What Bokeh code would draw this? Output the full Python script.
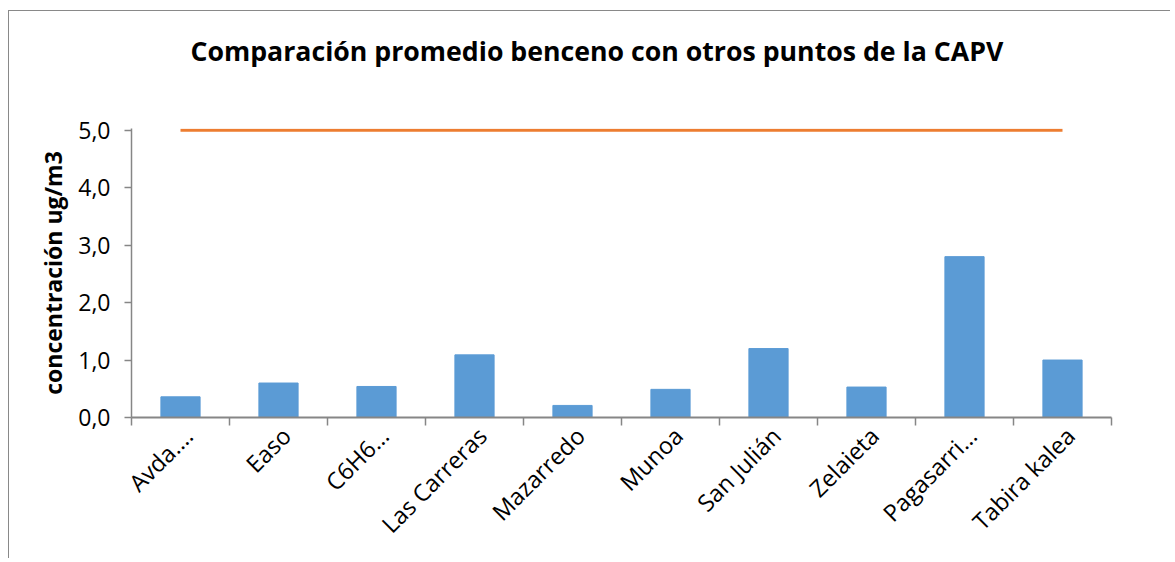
import math
from bokeh.plotting import figure
from bokeh.models import Range1d, FixedTicker
from bokeh.embed import file_html
from bokeh.resources import INLINE

categories = ["Avda.…", "Easo", "C6H6…", "Las Carreras", "Mazarredo", "Munoa",
              "San Julián", "Zelaieta", "Pagasarri…", "Tabira kalea"]
benceno = [0.36, 0.60, 0.54, 1.09, 0.21, 0.49, 1.20, 0.53, 2.80, 1.00]
limite = [5.0, 5.0, 5.0, 5.0, 5.0, 5.0, 5.0, 5.0, 5.0, 5.0]
y_ticks = [0, 1, 2, 3, 4, 5]
y_tick_labels = ["0,0", "1,0", "2,0", "3,0", "4,0", "5,0"]
title_text = "Comparación promedio benceno con otros puntos de la CAPV"
y_title = "concentración ug/m3"

FONT = "Open Sans"
AXIS_GRAY = "#868686"
BORDER = "#898989"

n = len(categories)
centers = [i + 0.5 for i in range(n)]
bounds = [i for i in range(n + 1)]
label_pos = [c + 0.08 for c in centers]

p = figure(width=1170, height=558, output_backend="svg", toolbar_location=None,
           x_range=Range1d(0, n), y_range=Range1d(0, 5.03),
           min_border_left=131, min_border_right=59, min_border_top=128,
           min_border_bottom=141)
p.outline_line_color = None
p.xgrid.visible = False
p.ygrid.visible = False
p.background_fill_color = "white"
p.border_fill_color = None
p.styles = {
    "background": (f"linear-gradient({BORDER},{BORDER}) 8px 10px / 1px calc(100% - 10px) no-repeat, "
                   f"linear-gradient({BORDER},{BORDER}) 8px 10px / calc(100% - 8px) 1px no-repeat, white")
}

p.title.text = title_text
p.title.align = "left"
p.title.offset = 59
p.title.standoff = 0
p.title.padding = dict(top=0, right=0, bottom=60, left=0)
p.title.text_font = FONT
p.title.text_font_size = "26.7px"
p.title.text_font_style = "bold"
p.title.text_color = "black"

p.vbar(x=centers, top=benceno, width=0.4, color="#5B9BD5")
p.line(x=centers, y=limite, line_color="#ED7D31", line_width=3)

# y axis
ya = p.yaxis[0]
ya.ticker = FixedTicker(ticks=y_ticks, minor_ticks=[])
ya.major_label_overrides = {t: l for t, l in zip(y_ticks, y_tick_labels)}
ya.axis_line_color = AXIS_GRAY
ya.axis_line_width = 1.5
ya.major_tick_line_color = AXIS_GRAY
ya.major_tick_line_width = 1.5
ya.major_tick_out = 7
ya.major_tick_in = 0
ya.major_label_standoff = 14
ya.major_label_text_font = FONT
ya.major_label_text_font_size = "23px"
ya.major_label_text_color = "black"
ya.axis_label = y_title
ya.axis_label_text_font = FONT
ya.axis_label_text_font_size = "23px"
ya.axis_label_text_font_style = "bold"
ya.axis_label_text_color = "black"
ya.axis_label_standoff = 6

# x axis
xa = p.xaxis[0]
xa.ticker = FixedTicker(ticks=label_pos, minor_ticks=bounds)
xa.major_label_overrides = {c: name for c, name in zip(label_pos, categories)}
xa.axis_line_color = AXIS_GRAY
xa.axis_line_width = 2
xa.major_tick_out = 0
xa.major_tick_in = 0
xa.minor_tick_out = 8
xa.minor_tick_in = 0
xa.minor_tick_line_color = AXIS_GRAY
xa.minor_tick_line_width = 1.5
xa.major_label_orientation = math.pi / 4
xa.major_label_standoff = 6
xa.major_label_text_font = FONT
xa.major_label_text_font_size = "23.5px"
xa.major_label_text_color = "black"

open("out.html", "w").write(file_html(p, INLINE))
